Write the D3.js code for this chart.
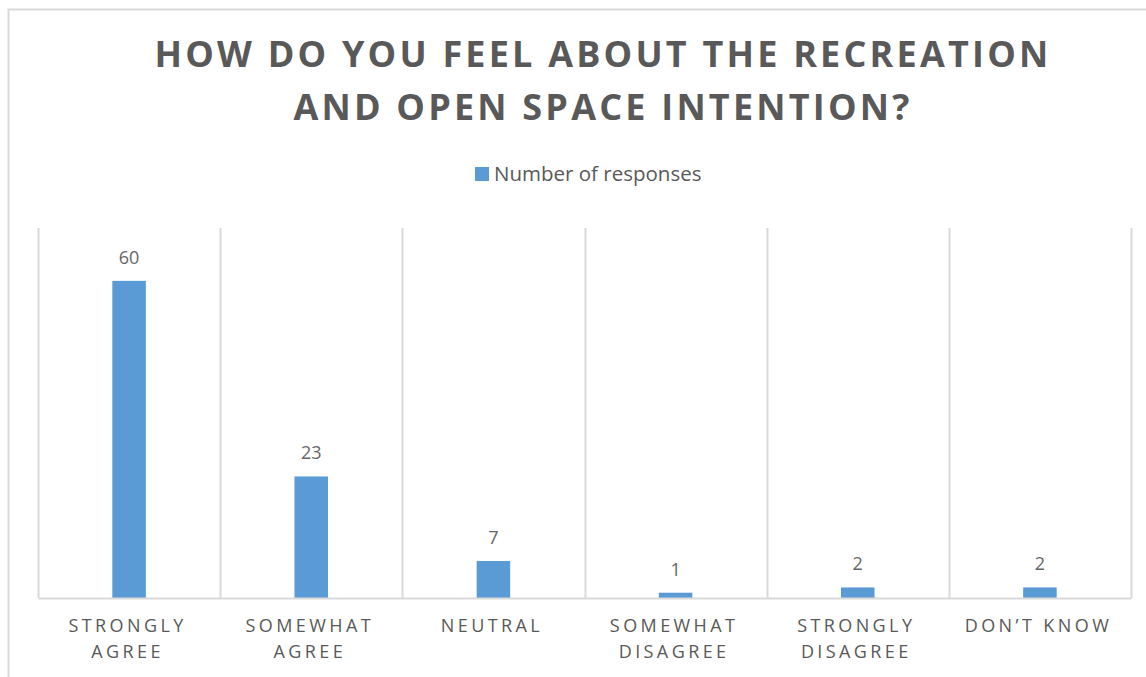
<!DOCTYPE html>
<html>
<head>
<meta charset="utf-8">
<script src="https://cdn.jsdelivr.net/npm/d3@7"></script>
<style>
  body { margin: 0; background: #fff; }
  svg { display: block; }
</style>
</head>
<body>
<div id="target"></div>
<script>
const categories = ["STRONGLY AGREE", "SOMEWHAT AGREE", "NEUTRAL", "SOMEWHAT DISAGREE", "STRONGLY DISAGREE", "DON’T KNOW"];
const responses = [60, 23, 7, 1, 2, 2];
const titleLines = ["HOW DO YOU FEEL ABOUT THE RECREATION", "AND OPEN SPACE INTENTION?"];
const seriesName = "Number of responses";

const width = 1146,
  height = 677,
  margin = { top: 228, right: 15, bottom: 79, left: 38 };

const blue = "#5b9bd5",
  textColor = "#595959",
  gridColor = "#d9d9d9";

const svg = d3.select("#target").append("svg")
  .attr("width", width)
  .attr("height", height)
  .style("font-family", "'Open Sans', sans-serif");

// chart area border (runs off the right and bottom)
svg.append("rect")
  .attr("x", 8.5)
  .attr("y", 9.5)
  .attr("width", width + 20)
  .attr("height", height + 20)
  .attr("fill", "none")
  .attr("stroke", gridColor)
  .attr("stroke-width", 2);

const x = d3.scaleBand()
  .domain(categories)
  .range([margin.left, width - margin.right])
  .padding(0);

const y = d3.scaleLinear()
  .domain([0, 70])
  .range([height - margin.bottom, margin.top]);

// title
svg.append("text")
  .attr("text-anchor", "middle")
  .attr("fill", textColor)
  .style("font-size", "36px")
  .style("font-weight", "bold")
  .style("letter-spacing", "3.2px")
  .selectAll("tspan")
  .data(titleLines)
  .enter()
  .append("tspan")
  .attr("x", 603)
  .attr("y", (d, i) => 67 + i * 53)
  .text((d) => d);

// legend
const legend = svg.append("g").attr("transform", "translate(475,167)");
legend.append("rect")
  .attr("width", 14)
  .attr("height", 14)
  .attr("fill", blue);
legend.append("text")
  .attr("x", 19)
  .attr("y", 14)
  .attr("fill", textColor)
  .style("font-size", "20.5px")
  .text(seriesName);

// vertical separators between categories
const edges = categories.map((d) => x(d)).concat([x.range()[1]]);
svg.append("g")
  .selectAll("line")
  .data(edges)
  .enter()
  .append("line")
  .attr("x1", (d) => Math.round(d) + 0.5)
  .attr("x2", (d) => Math.round(d) + 0.5)
  .attr("y1", y(70))
  .attr("y2", y(0))
  .attr("stroke", gridColor)
  .attr("stroke-width", 2);

// bars
const barW = x.bandwidth() * 0.184;
svg.append("g")
  .selectAll("rect")
  .data(responses)
  .enter()
  .append("rect")
  .attr("x", (d, i) => x(categories[i]) + x.bandwidth() / 2 - barW / 2)
  .attr("y", (d) => y(d))
  .attr("width", barW)
  .attr("height", (d) => y(0) - y(d))
  .attr("fill", blue);

// value labels
svg.append("g")
  .selectAll("text")
  .data(responses)
  .enter()
  .append("text")
  .attr("x", (d, i) => x(categories[i]) + x.bandwidth() / 2)
  .attr("y", (d) => y(d) - 17)
  .attr("text-anchor", "middle")
  .attr("fill", "#666")
  .style("font-size", "18px")
  .text((d) => d);

// x axis
const xAxis = svg.append("g")
  .attr("transform", `translate(0,${y(0)})`)
  .call(d3.axisBottom(x).tickSize(0).tickPadding(0));

xAxis.select(".domain")
  .attr("stroke", gridColor)
  .attr("stroke-width", 2);

xAxis.selectAll(".tick text").remove();

xAxis.selectAll(".tick")
  .append("text")
  .attr("fill", textColor)
  .attr("text-anchor", "middle")
  .style("font-size", "18px")
  .style("letter-spacing", "3.4px")
  .style("font-family", "'Open Sans', sans-serif")
  .each(function (d) {
    const t = d3.select(this);
    const words = d.split(" ");
    t.text(d);
    let lines = [d];
    if (this.getComputedTextLength() > x.bandwidth() - 10) lines = words;
    t.text(null);
    lines.forEach((line, i) => {
      t.append("tspan")
        .attr("x", -1.5)
        .attr("y", 34 + i * 26)
        .text(line);
    });
  });
</script>
</body>
</html>
